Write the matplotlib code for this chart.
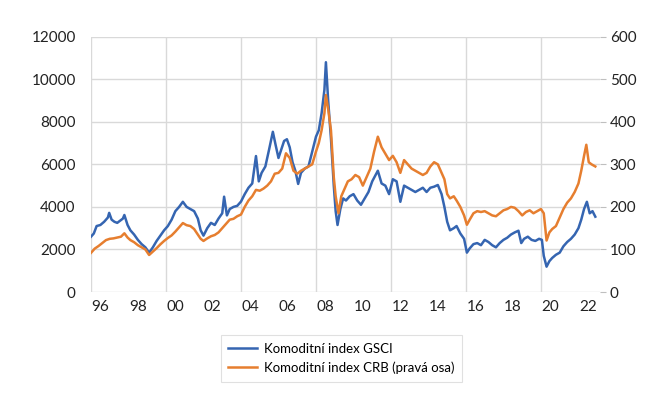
import matplotlib
matplotlib.use("Agg")
import matplotlib.pyplot as plt

plt.rcParams['font.family'] = ['Lato', 'DejaVu Sans']

# GSCI (left axis) – decimal years and values
gsci_t = [1996.0, 1996.15, 1996.3, 1996.5, 1996.7, 1996.9, 1996.97, 1997.1, 1997.25, 1997.4, 1997.55, 1997.7, 1997.78,
          1997.95, 1998.1, 1998.3, 1998.5, 1998.7, 1998.9, 1999.1, 1999.3, 1999.5, 1999.7, 1999.9, 2000.1, 2000.3,
          2000.5, 2000.7, 2000.9, 2001.1, 2001.3, 2001.5, 2001.7, 2001.85, 2002.0, 2002.2, 2002.4, 2002.6, 2002.8,
          2003.0, 2003.1, 2003.25, 2003.4, 2003.6, 2003.8, 2004.0, 2004.2, 2004.4, 2004.6, 2004.8, 2004.95, 2005.1,
          2005.3, 2005.5, 2005.7, 2005.85, 2006.0, 2006.15, 2006.3, 2006.45, 2006.6, 2006.75, 2006.9, 2007.05,
          2007.2, 2007.4, 2007.6, 2007.8, 2008.0, 2008.15, 2008.3, 2008.45, 2008.53, 2008.65, 2008.8, 2008.95,
          2009.05, 2009.15, 2009.3, 2009.45, 2009.6, 2009.8, 2010.0, 2010.2, 2010.4, 2010.6, 2010.8, 2011.0,
          2011.3, 2011.5, 2011.7, 2011.9, 2012.1, 2012.3, 2012.5, 2012.7, 2012.9, 2013.1, 2013.3, 2013.5, 2013.7,
          2013.9, 2014.1, 2014.3, 2014.5, 2014.7, 2014.85, 2015.0, 2015.15, 2015.35, 2015.5, 2015.7, 2015.9, 2016.05,
          2016.2, 2016.4, 2016.6, 2016.8, 2017.0, 2017.2, 2017.4, 2017.6, 2017.8, 2018.0, 2018.2, 2018.4, 2018.6,
          2018.8, 2018.95, 2019.1, 2019.3, 2019.5, 2019.7, 2019.9, 2020.05, 2020.15, 2020.3, 2020.45, 2020.6,
          2020.8, 2021.0, 2021.2, 2021.4, 2021.6, 2021.8, 2022.0, 2022.15, 2022.3, 2022.45, 2022.6, 2022.75, 2022.9]
gsci_v = [2600, 2750, 3100, 3150, 3300, 3500, 3720, 3400, 3300, 3250, 3350, 3450, 3620,
          3150, 2900, 2700, 2450, 2250, 2100, 1850, 2100, 2400, 2650, 2900, 3100, 3400,
          3800, 4000, 4240, 4000, 3900, 3800, 3450, 2900, 2650, 3000, 3250, 3150, 3450,
          3700, 4480, 3600, 3900, 4000, 4050, 4250, 4600, 4900, 5100, 6390, 5200, 5600,
          5900, 6700, 7530, 6900, 6300, 6700, 7100, 7180, 6800, 6100, 5700, 5080,
          5600, 5800, 5900, 6600, 7300, 7600, 8400, 9500, 10800, 9000, 7200, 5000,
          3800, 3150, 3900, 4400, 4300, 4500, 4600, 4300, 4100, 4400, 4700, 5200,
          5700, 5100, 5000, 4600, 5300, 5200, 4240, 5000, 4900, 4800, 4700, 4800, 4900,
          4700, 4900, 4950, 5030, 4600, 4000, 3300, 2900, 3000, 3100, 2750, 2500, 1850,
          2050, 2250, 2300, 2200, 2450, 2350, 2200, 2100, 2300, 2450, 2550, 2700, 2800,
          2880, 2300, 2500, 2600, 2450, 2400, 2500, 2450, 1700, 1190, 1450, 1600,
          1750, 1850, 2150, 2350, 2500, 2700, 3000, 3400, 3900, 4240, 3700, 3800, 3540]

# CRB (right axis)
crb_t = [1996.0, 1996.2, 1996.4, 1996.6, 1996.8, 1997.0, 1997.2, 1997.4, 1997.6, 1997.78, 1997.95, 1998.1,
         1998.3, 1998.5, 1998.7, 1998.9, 1999.1, 1999.3, 1999.5, 1999.7, 1999.9, 2000.1, 2000.3, 2000.5,
         2000.7, 2000.9, 2001.1, 2001.3, 2001.5, 2001.7, 2001.85, 2002.0, 2002.2, 2002.4, 2002.6, 2002.8,
         2003.0, 2003.2, 2003.4, 2003.6, 2003.8, 2004.0, 2004.2, 2004.4, 2004.6, 2004.8, 2005.0, 2005.2,
         2005.4, 2005.6, 2005.8, 2006.0, 2006.2, 2006.4, 2006.6, 2006.8, 2007.0, 2007.2, 2007.4, 2007.6,
         2007.8, 2008.0, 2008.15, 2008.3, 2008.45, 2008.53, 2008.65, 2008.8, 2008.95, 2009.05, 2009.2,
         2009.35, 2009.5, 2009.7, 2009.9, 2010.1, 2010.3, 2010.5, 2010.7, 2010.9, 2011.1, 2011.3, 2011.5,
         2011.7, 2011.9, 2012.1, 2012.3, 2012.5, 2012.7, 2012.9, 2013.1, 2013.3, 2013.5, 2013.7, 2013.9,
         2014.1, 2014.3, 2014.5, 2014.7, 2014.85, 2015.0, 2015.15, 2015.35, 2015.5, 2015.7, 2015.9, 2016.05,
         2016.2, 2016.4, 2016.6, 2016.8, 2017.0, 2017.2, 2017.4, 2017.6, 2017.8, 2018.0, 2018.2, 2018.4,
         2018.6, 2018.8, 2019.0, 2019.2, 2019.4, 2019.6, 2019.8, 2020.0, 2020.15, 2020.3, 2020.45, 2020.6,
         2020.8, 2021.0, 2021.2, 2021.4, 2021.6, 2021.8, 2022.0, 2022.15, 2022.3, 2022.42, 2022.55, 2022.7, 2022.9]
crb_v = [92, 102, 108, 115, 122, 125, 126, 128, 130, 138, 128, 122,
         117, 110, 105, 100, 87, 95, 103, 112, 120, 127, 133, 142,
         152, 162, 157, 155, 148, 135, 125, 120, 126, 131, 134, 140,
         150, 160, 170, 172, 178, 182, 200, 215, 225, 240, 238, 243,
         250, 260, 278, 280, 290, 326, 315, 285, 278, 285, 290, 295,
         300, 330, 350, 380, 420, 463, 430, 380, 270, 225, 185,
         225, 240, 260, 265, 275, 270, 250, 270, 290, 330, 365, 340,
         325, 310, 320, 305, 280, 310, 300, 290, 285, 280, 275, 280,
         295, 305, 300, 280, 265, 230, 220, 225, 215, 200, 180, 158,
         170, 185, 190, 188, 190, 185, 180, 178, 185, 192, 195, 200,
         198, 190, 180, 188, 192, 185, 190, 195, 185, 121, 140, 148,
         155, 175, 195, 210, 220, 235, 255, 285, 320, 346, 305, 300, 295]

year_labels = ['96', '98', '00', '02', '04', '06', '08', '10', '12', '14', '16', '18', '20', '22']
label_years = [1996, 1998, 2000, 2002, 2004, 2006, 2008, 2010, 2012, 2014, 2016, 2018, 2020, 2022]
grid_years = [1996, 2000, 2004, 2008, 2012, 2016, 2020]

blue = '#3565B1'
orange = '#E67E2F'
gridc = '#D9D9D9'

fig = plt.figure(figsize=(6.70, 4.13), dpi=100)
ax = fig.add_axes([91/670, 1-292/413, (600-91)/670, (292-36.7)/413])
ax2 = ax.twinx()

l1, = ax.plot(gsci_t, gsci_v, color=blue, lw=1.8, label='Komoditní index GSCI', zorder=3)
l2, = ax2.plot(crb_t, crb_v, color=orange, lw=1.8, label='Komoditní index CRB (pravá osa)', zorder=3)

ax.set_xlim(1996, 2023.15)
ax.set_ylim(0, 12000)
ax2.set_ylim(0, 600)
ax.set_yticks(range(0, 12001, 2000))
ax2.set_yticks(range(0, 601, 100))

ax.set_xticks([y + 0.5 for y in label_years])
ax.set_xticklabels(year_labels)
ax.set_xticks(grid_years, minor=True)
ax.tick_params(axis='x', which='both', length=0, pad=6, labelsize=11, labelcolor='#222222')
ax.tick_params(axis='y', length=0, pad=11, labelsize=11, labelcolor='#222222')
ax2.tick_params(axis='y', length=4, width=0.8, color='#BFBFBF', pad=3, labelsize=11, labelcolor='#222222')

ax.grid(True, axis='y', color=gridc, lw=1)
ax.grid(True, axis='x', which='minor', color=gridc, lw=1)
ax.grid(False, axis='x', which='major')
ax.set_axisbelow(True)
for a in (ax, ax2):
    for s in a.spines.values():
        s.set_visible(False)

leg = fig.legend(handles=[l1, l2], loc='center', bbox_to_anchor=(341.5/670, 1-358.5/413),
                 frameon=True, fancybox=False, edgecolor='#D9D9D9', fontsize=9.5,
                 handlelength=2.2, handletextpad=0.5, borderpad=0.6, labelspacing=0.5,
                 borderaxespad=0)
leg.get_frame().set_linewidth(0.8)

fig.savefig('out.png', dpi=100)
